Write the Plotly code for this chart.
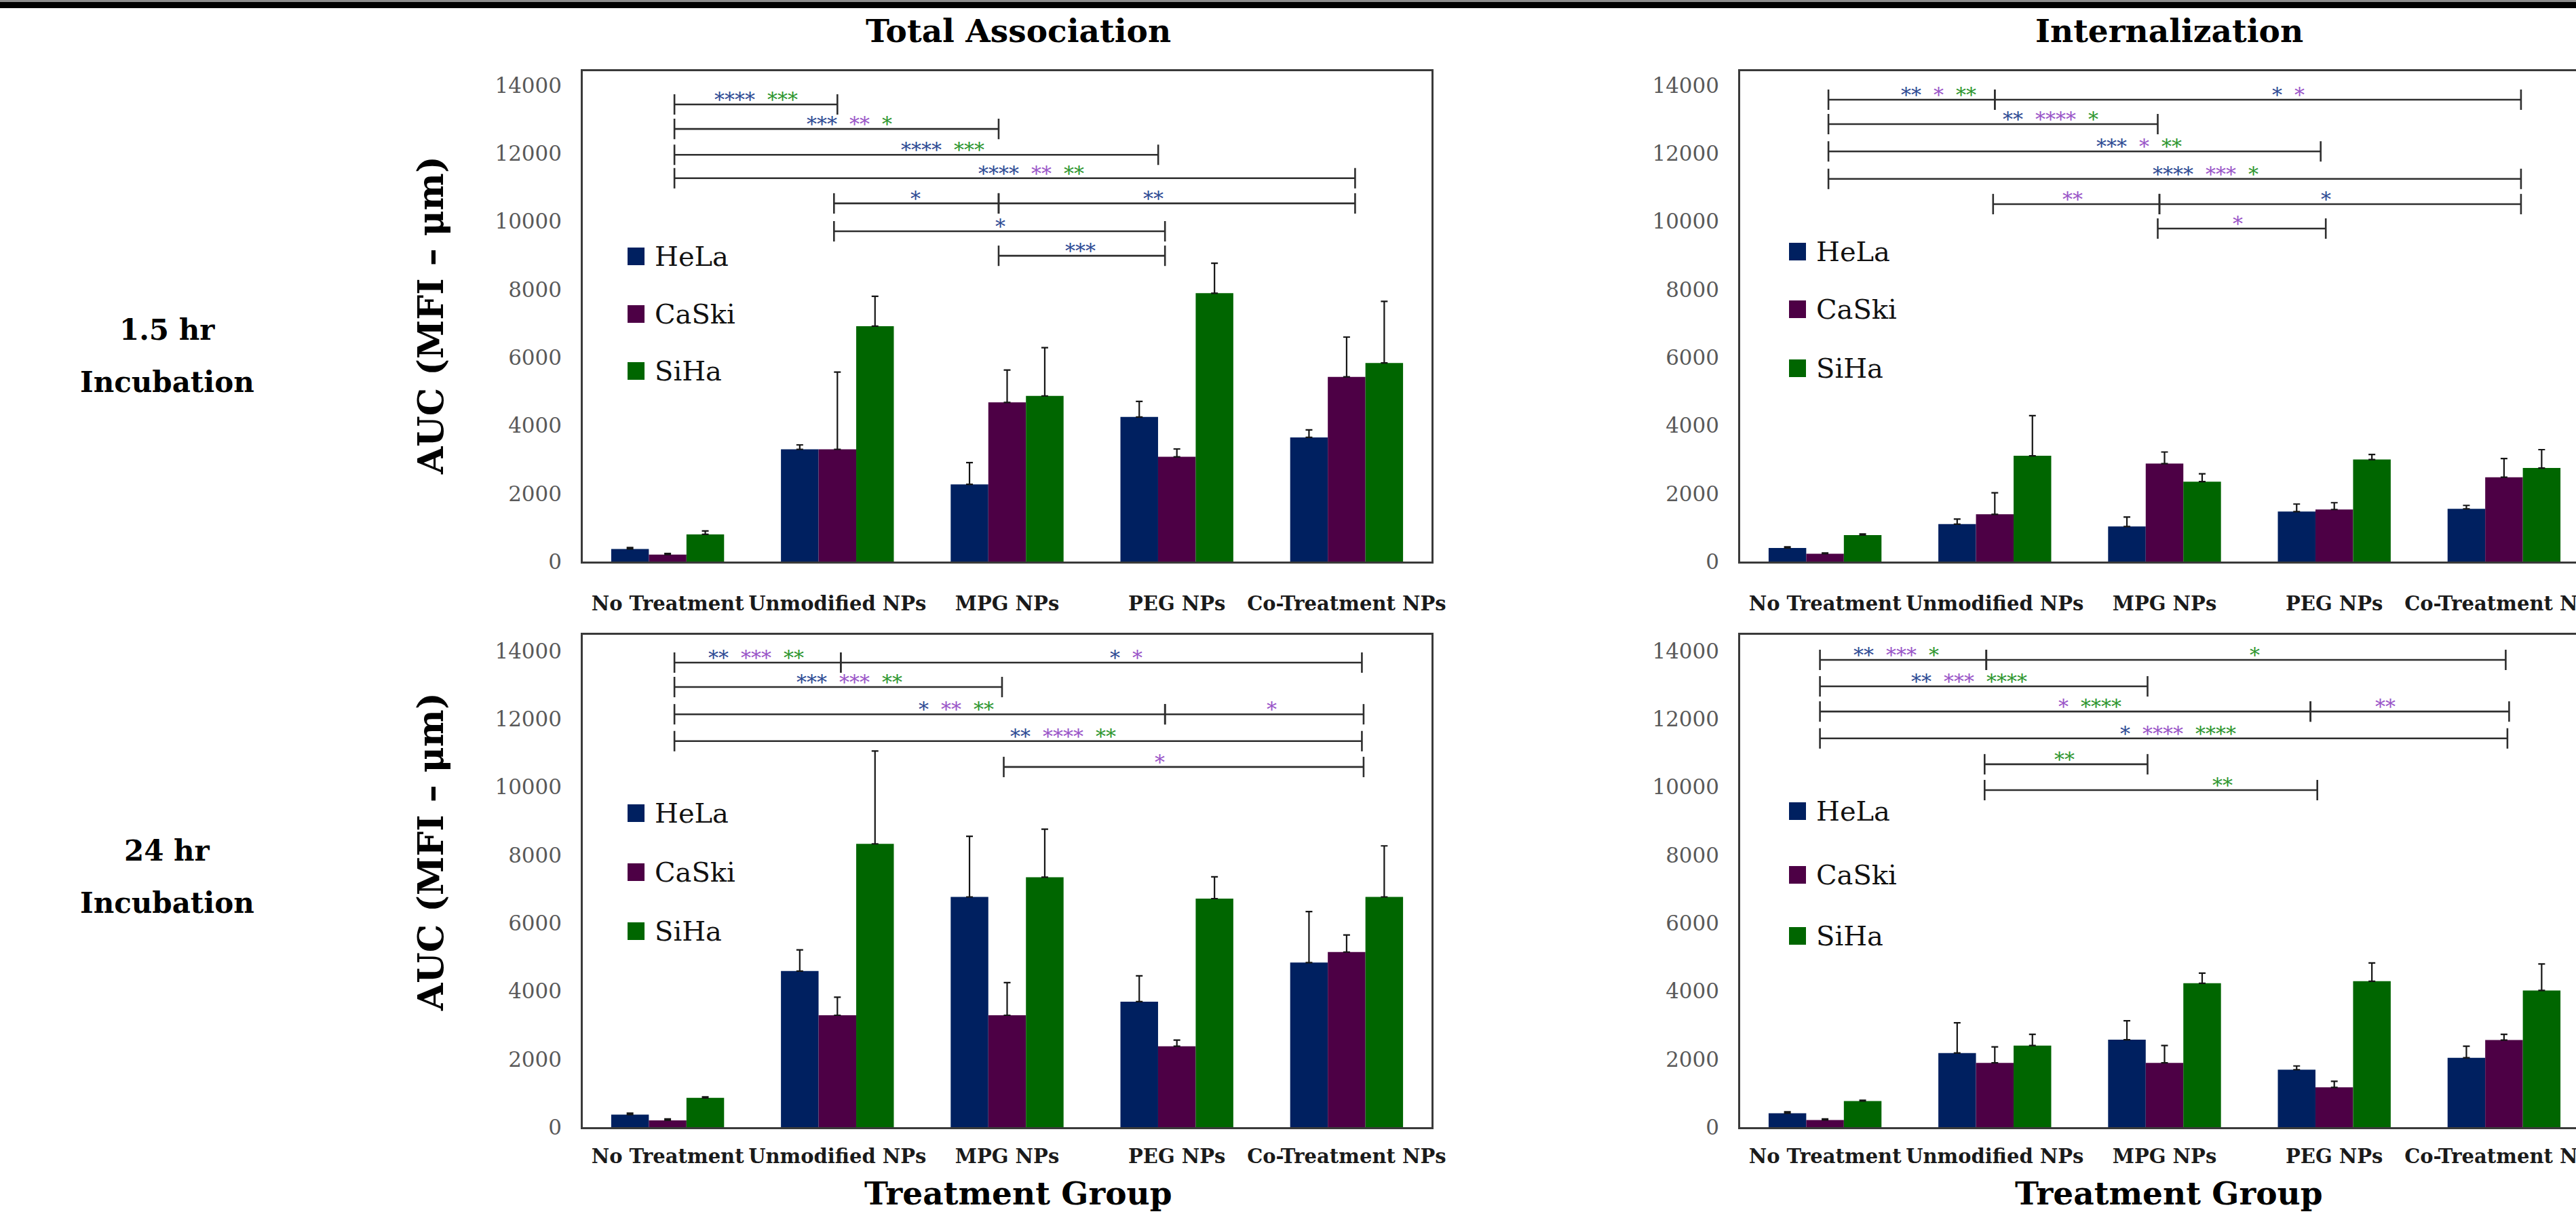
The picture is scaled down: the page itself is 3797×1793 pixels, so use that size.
import plotly.graph_objects as go

# Canvas size in pixels
W, H = 3797, 1793

# ---------------- data ----------------
categories = ["No Treatment", "Unmodified NPs", "MPG NPs", "PEG NPs", "Co-Treatment NPs"]
cell_lines = ["HeLa", "CaSki", "SiHa"]

# Total association, 1.5 hr incubation (AUC, MFI-um) and upper error
ta15_hela = [370, 3300, 2270, 4250, 3650]
ta15_hela_err = [40, 130, 640, 460, 220]
ta15_caski = [205, 3300, 4680, 3080, 5430]
ta15_caski_err = [30, 2270, 950, 230, 1170]
ta15_siha = [800, 6920, 4870, 7890, 5840]
ta15_siha_err = [100, 880, 1420, 880, 1810]

# Internalization, 1.5 hr incubation
in15_hela = [400, 1100, 1030, 1470, 1550]
in15_hela_err = [30, 150, 280, 220, 100]
in15_caski = [230, 1390, 2880, 1530, 2480]
in15_caski_err = [20, 630, 340, 200, 550]
in15_siha = [780, 3110, 2350, 3000, 2750]
in15_siha_err = [30, 1180, 230, 150, 540]

# Total association, 24 hr incubation
ta24_hela = [370, 4590, 6770, 3690, 4840]
ta24_hela_err = [40, 620, 1780, 760, 1500]
ta24_caski = [200, 3290, 3290, 2380, 5150]
ta24_caski_err = [40, 530, 960, 180, 500]
ta24_siha = [860, 8330, 7350, 6720, 6770]
ta24_siha_err = [30, 2730, 1410, 640, 1500]

# Internalization, 24 hr incubation
in24_hela = [410, 2180, 2570, 1690, 2040]
in24_hela_err = [40, 890, 560, 110, 340]
in24_caski = [210, 1890, 1890, 1170, 2560]
in24_caski_err = [30, 470, 510, 180, 170]
in24_siha = [770, 2400, 4230, 4290, 4020]
in24_siha_err = [20, 330, 300, 540, 780]

y_ticks = [0, 2000, 4000, 6000, 8000, 10000, 12000, 14000]
y_tick_labels = ["0", "2000", "4000", "6000", "8000", "10000", "12000", "14000"]

# Significance brackets: (start category, end category, height)
ta15_brackets = [(0.04, 1.0, 13440), (0.04, 1.95, 12720), (0.04, 2.89, 11960),
                 (0.04, 4.05, 11270), (0.98, 1.95, 10530), (1.95, 4.05, 10530),
                 (0.98, 2.93, 9710), (1.95, 2.93, 8990)]
ta15_stars = [(0.52, 13440, [("****", "B"), ("***", "G")]),
              (1.07, 12720, [("***", "B"), ("**", "P"), ("*", "G")]),
              (1.62, 11960, [("****", "B"), ("***", "G")]),
              (2.14, 11270, [("****", "B"), ("**", "P"), ("**", "G")]),
              (1.46, 10530, [("*", "B")]),
              (2.86, 10530, [("**", "B")]),
              (1.96, 9710, [("*", "B")]),
              (2.43, 8990, [("***", "B")])]

in15_brackets = [(0.02, 1.0, 13580), (1.0, 4.1, 13580), (0.02, 1.96, 12860),
                 (0.02, 2.92, 12060), (0.02, 4.1, 11250), (0.99, 1.97, 10510),
                 (1.97, 4.1, 10510), (1.96, 2.95, 9790)]
in15_stars = [(0.67, 13580, [("**", "B"), ("*", "P"), ("**", "G")]),
              (2.73, 13580, [("*", "B"), ("*", "P")]),
              (1.33, 12860, [("**", "B"), ("****", "P"), ("*", "G")]),
              (1.85, 12060, [("***", "B"), ("*", "P"), ("**", "G")]),
              (2.24, 11250, [("****", "B"), ("***", "P"), ("*", "G")]),
              (1.46, 10510, [("**", "P")]),
              (2.95, 10510, [("*", "B")]),
              (2.43, 9790, [("*", "P")])]

ta24_brackets = [(0.04, 1.02, 13660), (1.02, 4.09, 13660), (0.04, 1.97, 12940),
                 (0.04, 2.93, 12140), (2.93, 4.10, 12140), (0.04, 4.09, 11350),
                 (1.98, 4.10, 10590)]
ta24_stars = [(0.52, 13660, [("**", "B"), ("***", "P"), ("**", "G")]),
              (2.70, 13660, [("*", "B"), ("*", "P")]),
              (1.07, 12940, [("***", "B"), ("***", "P"), ("**", "G")]),
              (1.70, 12140, [("*", "B"), ("**", "P"), ("**", "G")]),
              (3.56, 12140, [("*", "P")]),
              (2.33, 11350, [("**", "B"), ("****", "P"), ("**", "G")]),
              (2.90, 10590, [("*", "P")])]

in24_brackets = [(-0.03, 0.95, 13740), (0.95, 4.01, 13740), (-0.03, 1.90, 12960),
                 (-0.03, 2.86, 12220), (2.86, 4.03, 12220), (-0.03, 4.02, 11430),
                 (0.94, 1.90, 10670), (0.94, 2.90, 9910)]
in24_stars = [(0.42, 13740, [("**", "B"), ("***", "P"), ("*", "G")]),
              (2.53, 13740, [("*", "G")]),
              (0.85, 12960, [("**", "B"), ("***", "P"), ("****", "G")]),
              (1.56, 12220, [("*", "P"), ("****", "G")]),
              (3.30, 12220, [("**", "P")]),
              (2.08, 11430, [("*", "B"), ("****", "P"), ("****", "G")]),
              (1.41, 10670, [("**", "G")]),
              (2.34, 9910, [("**", "G")])]

# ---------------- styling ----------------
BAR_COLORS = {"HeLa": "#002060", "CaSki": "#4D0045", "SiHa": "#006600"}
STAR_COLORS = {"B": "#2E4A94", "P": "#9A55C8", "G": "#2F962F"}
AXIS_LINE = "#3a3a3a"
SERIF = "DejaVu Serif"
PX_PER_UNIT = 0.05015      # vertical pixels per AUC unit
STAR_SIZE = 30
STAR_ADV = 0.5 * STAR_SIZE  # advance width of one asterisk glyph
STAR_GAP = 18               # space between asterisk groups


def px_x(p):
    return p / W


def px_y(p):
    return 1 - p / H


# plot areas in pixels: left, right, bottom (baseline), top of value range
CAT_PX = (2110 - 859) / 5
panels = [
    dict(ax="", left=859, right=2110, base=828, ymax=14420, mirror_y=True, standoff=34,
         data=[(ta15_hela, ta15_hela_err), (ta15_caski, ta15_caski_err), (ta15_siha, ta15_siha_err)],
         brackets=ta15_brackets, stars=ta15_stars, legend=(925, [378, 463, 547])),
    dict(ax="2", left=2565, right=W, base=828, ymax=14420, mirror_y=False, standoff=34,
         data=[(in15_hela, in15_hela_err), (in15_caski, in15_caski_err), (in15_siha, in15_siha_err)],
         brackets=in15_brackets, stars=in15_stars, legend=(2637, [371, 456, 543])),
    dict(ax="3", left=859, right=2110, base=1662, ymax=14480, mirror_y=True, standoff=15,
         data=[(ta24_hela, ta24_hela_err), (ta24_caski, ta24_caski_err), (ta24_siha, ta24_siha_err)],
         brackets=ta24_brackets, stars=ta24_stars, legend=(925, [1199, 1286, 1373])),
    dict(ax="4", left=2565, right=W, base=1662, ymax=14480, mirror_y=False, standoff=15,
         data=[(in24_hela, in24_hela_err), (in24_caski, in24_caski_err), (in24_siha, in24_siha_err)],
         brackets=in24_brackets, stars=in24_stars, legend=(2637, [1196, 1290, 1380])),
]

fig = go.Figure()
shapes = []
annotations = []
layout_axes = {}

TICK = 300  # half-height of bracket end ticks, in data units

for p in panels:
    xa, ya = "x" + p["ax"], "y" + p["ax"]
    for name, (vals, errs) in zip(cell_lines, p["data"]):
        fig.add_trace(go.Bar(
            x=categories, y=vals, name=name, xaxis=xa, yaxis=ya,
            marker=dict(color=BAR_COLORS[name], line=dict(width=0)),
            error_y=dict(type="data", symmetric=False, array=errs,
                         arrayminus=[0] * len(errs), color="#151515",
                         thickness=2.2, width=5),
            showlegend=False,
        ))

    top_px = p["base"] - p["ymax"] * PX_PER_UNIT
    x_hi = -0.5 + (p["right"] - p["left"]) / CAT_PX
    layout_axes["xaxis" + p["ax"]] = dict(
        domain=[px_x(p["left"]), px_x(p["right"])], anchor=ya,
        type="category", categoryorder="array", categoryarray=categories,
        range=[-0.5, x_hi], showgrid=False, zeroline=False, automargin=False,
        showline=True, mirror=True, linecolor=AXIS_LINE, linewidth=3,
        ticks="", tickangle=0, ticklabelstandoff=p["standoff"],
        tickfont=dict(family=SERIF, size=29, color="#1a1a1a", weight="bold"),
    )
    layout_axes["yaxis" + p["ax"]] = dict(
        domain=[px_y(p["base"]), px_y(top_px)], anchor=xa,
        range=[0, p["ymax"]], tickvals=y_ticks, ticktext=y_tick_labels,
        showgrid=False, zeroline=False, automargin=False,
        showline=True, mirror=p["mirror_y"], linecolor=AXIS_LINE, linewidth=2.5,
        ticks="", ticklabelstandoff=22,
        tickfont=dict(family=SERIF, size=31, color="#595959"),
    )

    # significance brackets
    for x0, x1, yv in p["brackets"]:
        line = dict(color="#2e2e2e", width=2.6)
        shapes.append(dict(type="line", xref=xa, yref=ya, x0=x0, x1=x1, y0=yv, y1=yv, line=line))
        for xe in (x0, x1):
            shapes.append(dict(type="line", xref=xa, yref=ya, x0=xe, x1=xe,
                               y0=yv - TICK, y1=yv + TICK, line=line))

    # asterisk groups, laid out side by side around the label centre
    for xs, yv, groups in p["stars"]:
        widths = [len(s) * STAR_ADV for s, _ in groups]
        total = sum(widths) + STAR_GAP * (len(groups) - 1)
        cursor = -total / 2
        for (s, c), w in zip(groups, widths):
            xc = xs + (cursor + w / 2) / CAT_PX
            annotations.append(dict(xref=xa, yref=ya, x=xc, y=yv, text=s, showarrow=False,
                                    xanchor="center", yanchor="bottom", yshift=-12,
                                    font=dict(family=SERIF, size=STAR_SIZE, color=STAR_COLORS[c])))
            cursor += w + STAR_GAP

    # legend block
    lx, ly = p["legend"]
    for name, cy in zip(cell_lines, ly):
        shapes.append(dict(type="rect", xref="paper", yref="paper",
                           x0=px_x(lx), x1=px_x(lx + 25), y0=px_y(cy + 13), y1=px_y(cy - 13),
                           fillcolor=BAR_COLORS[name], line=dict(width=0)))
        annotations.append(dict(xref="paper", yref="paper", x=px_x(lx + 38), y=px_y(cy),
                                text=name, showarrow=False, xanchor="left", yanchor="middle",
                                font=dict(family=SERIF, size=40, color="#111111")))

# header band across the top
shapes.append(dict(type="rect", xref="paper", yref="paper", x0=0, x1=1,
                   y0=px_y(3), y1=1, fillcolor="#8c8c8c", line=dict(width=0)))
shapes.append(dict(type="rect", xref="paper", yref="paper", x0=0, x1=1,
                   y0=px_y(12), y1=px_y(3), fillcolor="#000000", line=dict(width=0)))

bold = dict(family=SERIF, color="#000000", weight="bold")

# column titles and x-axis titles
for cx, title in ((1501, "Total Association"), (3197, "Internalization")):
    annotations.append(dict(xref="paper", yref="paper", x=px_x(cx), y=px_y(46), text=title,
                            showarrow=False, xanchor="center", yanchor="middle",
                            font=dict(size=47, **bold)))
    annotations.append(dict(xref="paper", yref="paper", x=px_x(cx), y=px_y(1759),
                            text="Treatment Group", showarrow=False, xanchor="center",
                            yanchor="middle", font=dict(size=47, **bold)))

# row labels
for cy, lab in ((486, "1.5 hr"), (564, "Incubation"), (1254, "24 hr"), (1331, "Incubation")):
    annotations.append(dict(xref="paper", yref="paper", x=px_x(246), y=px_y(cy), text=lab,
                            showarrow=False, xanchor="center", yanchor="middle",
                            font=dict(size=42, **bold)))

# y-axis titles on the left column
for cy in (466, 1257):
    annotations.append(dict(xref="paper", yref="paper", x=px_x(634), y=px_y(cy),
                            text="AUC (MFI \u2013 \u03bcm)", textangle=-90, showarrow=False,
                            xanchor="center", yanchor="middle", font=dict(size=52, **bold)))

fig.update_layout(
    width=W, height=H, margin=dict(l=0, r=0, t=0, b=0, autoexpand=False),
    paper_bgcolor="white", plot_bgcolor="white",
    barmode="group", bargap=0.335, bargroupgap=0,
    showlegend=False, shapes=shapes, annotations=annotations,
    **layout_axes,
)

fig.write_html("out.html", config={"displayModeBar": False})
